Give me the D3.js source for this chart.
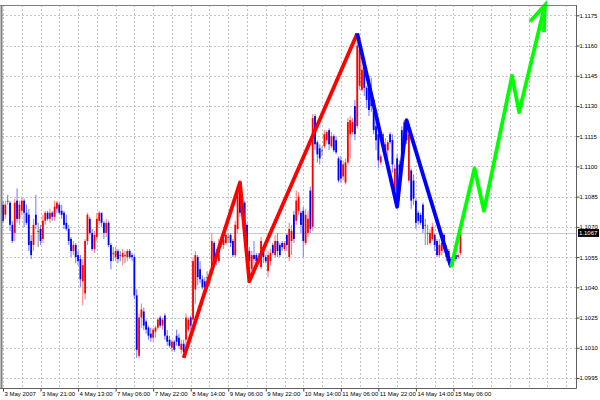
<!DOCTYPE html>
<html><head><meta charset="utf-8">
<script src="https://cdn.jsdelivr.net/npm/d3@7"></script>
<style>body{margin:0;background:#fff}svg{display:block}</style>
</head><body><svg id="c" width="600" height="400"></svg>
<script>
// ---- DATA (EURUSD H1) ----
const openP = [
1.1081,1.1076,1.1083,1.1082,1.1071,1.1067,1.1083,1.1074,1.1078,1.1083,
1.1077,1.1076,1.1063,1.1061,1.1076,1.1068,1.1069,1.1064,1.1073,1.1077,
1.1074,1.1077,1.1075,1.1079,1.1081,1.1078,1.1077,1.1072,1.1069,1.1064,
1.1058,1.1061,1.1056,1.1054,1.1043,1.1037,1.1063,1.1074,1.1067,1.1059,
1.1065,1.1073,1.1077,1.1072,1.1067,1.1072,1.1061,1.1057,1.1055,1.1058,
1.1056,1.1055,1.1056,1.1055,1.1058,1.1056,1.1055,1.1036,1.1006,1.1025,
1.1028,1.1023,1.1020,1.1017,1.1015,1.1018,1.1020,1.1025,1.1021,1.1026,
1.1016,1.1014,1.1010,1.1013,1.1016,1.1015,1.1009,1.1012,1.1014,1.1019,
1.1025,1.1024,1.1039,1.1055,1.1049,1.1044,1.1043,1.1045,1.1042,1.1047,
1.1062,1.1056,1.1053,1.1063,1.1061,1.1062,1.1065,1.1066,1.1063,1.1056,
1.1069,1.1088,1.1083,1.1082,1.1071,1.1058,1.1049,1.1056,1.1056,1.1055,
1.1050,1.1058,1.1055,1.1048,1.1053,1.1061,1.1056,1.1063,1.1061,1.1062,
1.1059,1.1066,1.1055,1.1063,1.1076,1.1073,1.1078,1.1077,1.1078,1.1062,
1.1067,1.1088,1.1070,1.1125,1.1112,1.1109,1.1108,1.1110,1.1113,1.1118,
1.1110,1.1115,1.1113,1.1104,1.1103,1.1095,1.1092,1.1102,1.1116,1.1117,
1.1130,1.1120,1.1140,1.1138,1.1152,1.1139,1.1143,1.1135,1.1133,1.1120,
1.1116,1.1102,1.1108,1.1106,1.1108,1.1116,1.1113,1.1088,1.1104,1.1101,
1.1118,1.1113,1.1122,1.1093,1.1098,1.1093,1.1083,1.1077,1.1076,1.1081,
1.1071,1.1067,1.1062,1.1064,1.1066,1.1063,1.1056,1.1058,1.1066,1.1059,
1.1058,1.1054,1.1053,1.1056,1.1055,1.1057];
const highP = [
1.1083,1.1083,1.1086,1.1083,1.1073,1.1084,1.1089,1.1083,1.1085,1.1084,
1.1081,1.1079,1.1066,1.1074,1.1086,1.1072,1.1071,1.1076,1.1078,1.1078,
1.1079,1.1078,1.1083,1.1083,1.1082,1.1081,1.1078,1.1076,1.1071,1.1065,
1.1063,1.1062,1.1058,1.1056,1.1054,1.1064,1.1077,1.1075,1.1069,1.1068,
1.1077,1.1078,1.1077,1.1073,1.1074,1.1073,1.1062,1.1060,1.1060,1.1059,
1.1058,1.1059,1.1058,1.1059,1.1059,1.1057,1.1056,1.1039,1.1027,1.1032,
1.1030,1.1024,1.1021,1.1020,1.1020,1.1021,1.1025,1.1026,1.1025,1.1027,
1.1019,1.1016,1.1014,1.1014,1.1019,1.1017,1.1014,1.1014,1.1027,1.1025,
1.1026,1.1055,1.1058,1.1056,1.1053,1.1046,1.1045,1.1048,1.1048,1.1067,
1.1063,1.1059,1.1064,1.1065,1.1066,1.1067,1.1067,1.1067,1.1064,1.1073,
1.1089,1.1092,1.1086,1.1083,1.1072,1.1060,1.1058,1.1063,1.1057,1.1057,
1.1065,1.1059,1.1056,1.1058,1.1059,1.1062,1.1066,1.1067,1.1062,1.1063,
1.1063,1.1067,1.1072,1.1071,1.1078,1.1088,1.1087,1.1078,1.1080,1.1079,
1.1078,1.1090,1.1126,1.1126,1.1113,1.1111,1.1110,1.1118,1.1118,1.1119,
1.1117,1.1116,1.1115,1.1105,1.1105,1.1103,1.1104,1.1124,1.1125,1.1124,
1.1133,1.1166,1.1164,1.1154,1.1154,1.1140,1.1145,1.1144,1.1134,1.1124,
1.1117,1.1106,1.1117,1.1114,1.1113,1.1117,1.1116,1.1101,1.1106,1.1103,
1.1120,1.1123,1.1123,1.1119,1.1099,1.1096,1.1084,1.1078,1.1077,1.1082,
1.1074,1.1071,1.1069,1.1072,1.1067,1.1064,1.1064,1.1063,1.1067,1.1061,
1.1059,1.1055,1.1057,1.1057,1.1057,1.1067];
const lowP = [
1.1072,1.1074,1.1081,1.1068,1.1062,1.1063,1.1072,1.1071,1.1076,1.1070,
1.1071,1.1058,1.1054,1.1058,1.1069,1.1060,1.1061,1.1062,1.1071,1.1073,
1.1072,1.1073,1.1073,1.1077,1.1076,1.1074,1.1069,1.1068,1.1061,1.1055,
1.1056,1.1052,1.1051,1.1040,1.1031,1.1034,1.1061,1.1066,1.1058,1.1057,
1.1063,1.1071,1.1070,1.1064,1.1065,1.1060,1.1049,1.1053,1.1053,1.1052,
1.1053,1.1051,1.1052,1.1053,1.1054,1.1053,1.1034,1.1005,1.1005,1.1020,
1.1019,1.1017,1.1014,1.1013,1.1013,1.1015,1.1019,1.1020,1.1019,1.1014,
1.1011,1.1010,1.1008,1.1008,1.1011,1.1010,1.1007,1.1005,1.1011,1.1018,
1.1019,1.1023,1.1032,1.1041,1.1042,1.1039,1.1038,1.1042,1.1041,1.1046,
1.1050,1.1051,1.1052,1.1060,1.1059,1.1061,1.1062,1.1060,1.1055,1.1055,
1.1067,1.1075,1.1081,1.1068,1.1055,1.1043,1.1048,1.1052,1.1052,1.1052,
1.1049,1.1052,1.1052,1.1045,1.1051,1.1056,1.1055,1.1055,1.1055,1.1058,
1.1058,1.1058,1.1053,1.1056,1.1062,1.1071,1.1076,1.1067,1.1055,1.1061,
1.1065,1.1067,1.1068,1.1108,1.1102,1.1101,1.1105,1.1109,1.1111,1.1108,
1.1109,1.1107,1.1106,1.1092,1.1092,1.1093,1.1091,1.1101,1.1104,1.1116,
1.1113,1.1119,1.1138,1.1137,1.1135,1.1129,1.1125,1.1127,1.1116,1.1108,
1.1099,1.1101,1.1107,1.1104,1.1104,1.1111,1.1097,1.1087,1.1080,1.1083,
1.1101,1.1111,1.1111,1.1092,1.1079,1.1081,1.1069,1.1071,1.1071,1.1067,
1.1061,1.1061,1.1061,1.1063,1.1058,1.1055,1.1055,1.1056,1.1057,1.1053,
1.1051,1.1050,1.1051,1.1053,1.1054,1.1056];
const closeP = [
1.1073,1.1081,1.1083,1.1071,1.1063,1.1082,1.1074,1.1081,1.1083,1.1077,
1.1072,1.1061,1.1056,1.1071,1.1071,1.1068,1.1063,1.1073,1.1077,1.1074,
1.1077,1.1075,1.1080,1.1082,1.1077,1.1076,1.1071,1.1069,1.1063,1.1058,
1.1061,1.1055,1.1053,1.1044,1.1051,1.1063,1.1076,1.1067,1.1059,1.1066,
1.1074,1.1077,1.1072,1.1067,1.1072,1.1061,1.1053,1.1057,1.1058,1.1054,
1.1056,1.1057,1.1056,1.1058,1.1055,1.1055,1.1036,1.1009,1.1025,1.1029,
1.1021,1.1019,1.1016,1.1015,1.1019,1.1020,1.1024,1.1021,1.1024,1.1016,
1.1013,1.1011,1.1013,1.1009,1.1013,1.1011,1.1012,1.1008,1.1025,1.1024,
1.1021,1.1053,1.1056,1.1045,1.1044,1.1040,1.1040,1.1045,1.1046,1.1063,
1.1053,1.1055,1.1061,1.1061,1.1064,1.1066,1.1065,1.1062,1.1056,1.1071,
1.1087,1.1077,1.1083,1.1071,1.1057,1.1053,1.1056,1.1054,1.1053,1.1054,
1.1063,1.1055,1.1053,1.1056,1.1057,1.1057,1.1063,1.1058,1.1056,1.1060,
1.1062,1.1061,1.1069,1.1068,1.1064,1.1083,1.1085,1.1071,1.1063,1.1076,
1.1074,1.1069,1.1124,1.1111,1.1106,1.1104,1.1108,1.1116,1.1117,1.1111,
1.1115,1.1108,1.1107,1.1093,1.1094,1.1101,1.1102,1.1122,1.1123,1.1122,
1.1116,1.1160,1.1158,1.1148,1.1139,1.1133,1.1128,1.1130,1.1118,1.1113,
1.1103,1.1105,1.1116,1.1111,1.1112,1.1112,1.1101,1.1099,1.1083,1.1088,
1.1103,1.1122,1.1113,1.1116,1.1083,1.1084,1.1072,1.1073,1.1072,1.1069,
1.1071,1.1067,1.1067,1.1070,1.1061,1.1056,1.1061,1.1062,1.1059,1.1055,
1.1053,1.1051,1.1056,1.1054,1.1056,1.1067];

const dateLabels = ["3 May 2007","3 May 21:00","4 May 13:00","7 May 06:00","7 May 22:00",
  "8 May 14:00","9 May 06:00","9 May 22:00","10 May 14:00","11 May 06:00","11 May 22:00",
  "14 May 14:00","15 May 06:00"];
const dateLabelBars = [0,16,32,48,64,80,96,112,128,144,160,176,192];
const priceTicks = [1.0995,1.1010,1.1025,1.1040,1.1055,1.1070,1.1085,1.1100,1.1115,1.1130,1.1145,1.1160,1.1175];
const currentPrice = 1.1067;

// zigzag vertices: [bar index, price]
const zigUp   = [[77,1.1005],[101,1.1092],[105,1.1043],[151,1.1166]];
const zigDown = [[151,1.1166],[168,1.1080],[172,1.1123],[191,1.1050]];
const projection = [[191,1.1050],[201,1.1099],[205,1.1078],[217,1.1145],[220,1.1127],[231,1.1180]];

// ---- DRAW ----
const svg = d3.select("#c");
const L = 2, R = 576, T = 5, B = 388;
const x = d3.scaleLinear().domain([0, 244]).range([3, 3 + 244 * 2.346]);
const y = d3.scaleLinear().domain([1.0995, 1.1175]).range([378, 15.3]);
const FONT = "'Liberation Sans', Arial, sans-serif";

svg.append("rect").attr("width",600).attr("height",400).attr("fill","#fff");

// grid
const grid = svg.append("g").attr("stroke","#c4c4c4").attr("stroke-width",1).attr("stroke-dasharray","2,2");
grid.selectAll("line.v").data(d3.range(0, 241, 8)).enter().append("line")
  .attr("x1", d => Math.round(x(d)) + 0.5).attr("x2", d => Math.round(x(d)) + 0.5)
  .attr("y1", T).attr("y2", B);
grid.selectAll("line.h").data(priceTicks).enter().append("line")
  .attr("y1", d => Math.round(y(d)) + 0.5).attr("y2", d => Math.round(y(d)) + 0.5)
  .attr("x1", L).attr("x2", R);

// current price line
svg.append("line").attr("x1", L).attr("x2", R)
  .attr("y1", Math.round(y(currentPrice)) + 0.5).attr("y2", Math.round(y(currentPrice)) + 0.5)
  .attr("stroke", "#c8c8c8").attr("stroke-width", 1);

// candles
const bars = openP.map((o, i) => ({i, o, h: highP[i], l: lowP[i], c: closeP[i]}));
const cg = svg.append("g");
function kind(d){ return d.c > d.o ? "up" : (d.c < d.o ? "down" : "flat"); }
const wickCol = {up:"#ff8080", down:"#8080ff", flat:"#909090"};
const bodyCol = {up:"#ff0000", down:"#0000ff", flat:"#505050"};
cg.selectAll("line").data(bars).enter().append("line")
  .attr("x1", d => x(d.i)).attr("x2", d => x(d.i))
  .attr("y1", d => y(d.h)).attr("y2", d => y(d.l))
  .attr("stroke", d => wickCol[kind(d)]).attr("stroke-width", 1.1);
cg.selectAll("rect").data(bars).enter().append("rect")
  .attr("x", d => x(d.i) - 0.9).attr("width", 1.8)
  .attr("y", d => Math.min(y(d.o), y(d.c)))
  .attr("height", d => Math.max(1, Math.abs(y(d.o) - y(d.c))))
  .attr("fill", d => bodyCol[kind(d)]);

// zigzag lines
const line = d3.line().x(d => x(d[0])).y(d => y(d[1]));
svg.append("path").attr("d", line(zigUp)).attr("fill","none").attr("stroke","#ff0000").attr("stroke-width",3.8).attr("stroke-linejoin","round");
svg.append("path").attr("d", line(zigDown)).attr("fill","none").attr("stroke","#0000ff").attr("stroke-width",3.8).attr("stroke-linejoin","round");
svg.append("path").attr("d", line(projection)).attr("fill","none").attr("stroke","#00ff00").attr("stroke-width",3.8).attr("stroke-linejoin","round");
// arrow head at projection end
(function(){
  const n = projection.length;
  const tx = x(projection[n-1][0]), ty = y(projection[n-1][1]);
  const px = x(projection[n-2][0]), py = y(projection[n-2][1]);
  const ang = Math.atan2(py - ty, px - tx);
  const a1 = [tx + 22*Math.cos(ang + 0.5), ty + 22*Math.sin(ang + 0.5)];
  const a2 = [tx + 27*Math.cos(ang - 0.2), ty + 27*Math.sin(ang - 0.2)];
  svg.append("path").attr("d", `M${a1[0]},${a1[1]}L${tx},${ty}L${a2[0]},${a2[1]}`)
    .attr("fill","none").attr("stroke","#00ff00").attr("stroke-width",3.8).attr("stroke-linejoin","miter");
})();

// frame
svg.append("line").attr("x1",0).attr("x2",R).attr("y1",T+0.5).attr("y2",T+0.5).attr("stroke","#808080");
svg.append("line").attr("x1",1.5).attr("x2",1.5).attr("y1",T).attr("y2",B).attr("stroke","#808080").attr("stroke-width",2);

// right axis
const yAxis = d3.axisRight(y).tickValues(priceTicks).tickFormat(d3.format(".4f")).tickSize(3).tickPadding(0);
const ya = svg.append("g").attr("transform", `translate(${R+0.5},0)`).call(yAxis);
ya.select(".domain").remove();
ya.selectAll("line").attr("stroke","#404040");
ya.selectAll("text").attr("font-family", FONT).attr("font-size", 6).attr("fill","#000");
svg.append("line").attr("x1",R+0.5).attr("x2",R+0.5).attr("y1",T).attr("y2",B+0.5).attr("stroke","#606060");

// bottom axis
const xAxis = d3.axisBottom(x).tickValues(dateLabelBars).tickFormat((d,i) => dateLabels[i]).tickSize(3).tickPadding(0);
const xa = svg.append("g").attr("transform", `translate(0,${B+0.5})`).call(xAxis);
xa.select(".domain").remove();
xa.selectAll("line").attr("stroke","#404040");
xa.selectAll("text").attr("font-family", FONT).attr("font-size", 6).attr("fill","#000")
  .attr("text-anchor","start").attr("x", 1);
svg.append("line").attr("x1",0).attr("x2",R+0.5).attr("y1",B+0.5).attr("y2",B+0.5).attr("stroke","#606060");

// current price tag
const cy = y(currentPrice);
svg.append("rect").attr("x", R+2).attr("y", cy - 4).attr("width", 21).attr("height", 8).attr("fill","#000");
svg.append("text").attr("x", R+3).attr("y", cy).attr("dy","0.35em")
  .attr("font-family", FONT).attr("font-size", 6).attr("fill","#fff").text(d3.format(".4f")(currentPrice));
</script>
</body></html>
